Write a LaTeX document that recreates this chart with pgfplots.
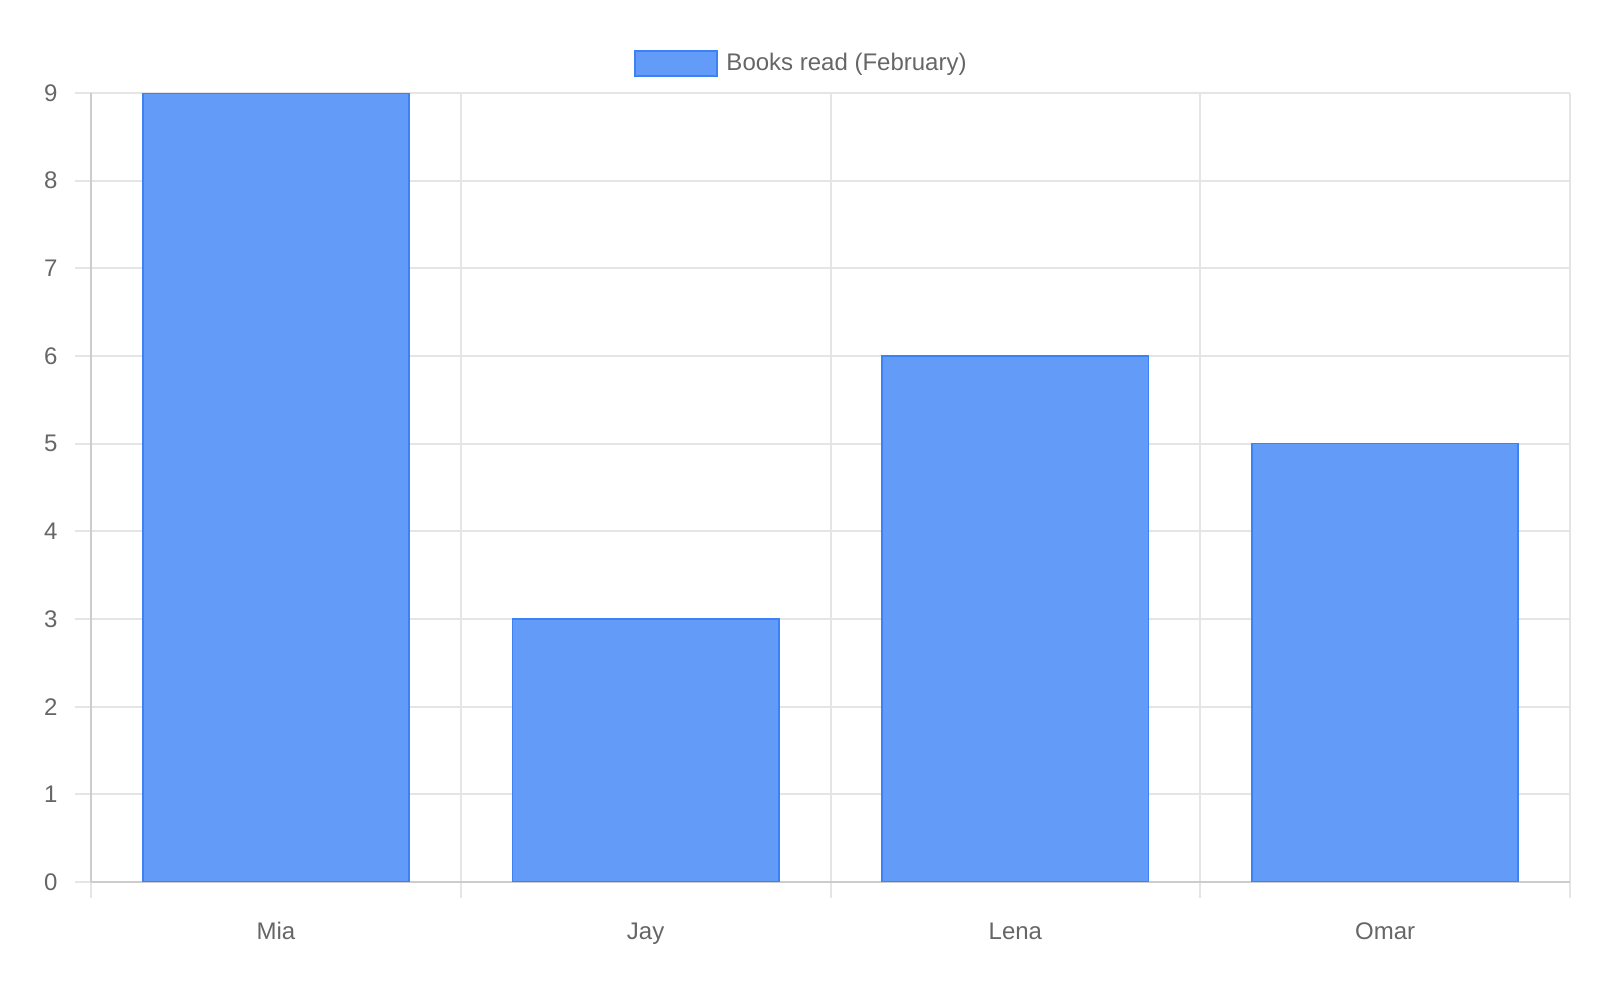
\documentclass[border=0pt]{standalone}
\usepackage{fontspec}
\setmainfont{Liberation Sans}
\usepackage{pgfplots}
\pgfplotsset{compat=1.18}
\definecolor{barfill}{RGB}{98,155,248}
\definecolor{barline}{RGB}{59,130,246}
\definecolor{txt}{RGB}{102,102,102}
\definecolor{gridc}{RGB}{229,229,229}
\definecolor{axisc}{RGB}{204,204,204}
\begin{document}
\begin{tikzpicture}
\path[use as bounding box] (-45.5pt,-59pt) rectangle (754.5pt,441pt);
\begin{axis}[
  at={(0,0)}, anchor=south west,
  scale only axis,
  width=739.5pt, height=394.5pt,
  xmin=-0.5, xmax=3.5, ymin=0, ymax=9,
  xtick={0,1,2,3},
  xticklabels={Mia,Jay,Lena,Omar},
  minor xtick={-0.5,0.5,1.5,2.5,3.5},
  ytick={0,1,...,9},
  axis x line=bottom, axis y line=left,
  axis line style={-, draw=axisc, line width=1pt},
  ymajorgrids, xminorgrids, xmajorgrids=false,
  major grid style={draw=gridc, line width=1pt},
  minor grid style={draw=gridc, line width=1pt},
  tick align=outside,
  major tick length=8pt, minor tick length=8pt,
  major x tick style={draw=none},
  minor x tick style={draw=gridc, line width=1pt},
  major y tick style={draw=gridc, line width=1pt},
  /pgf/number format/assume math mode=true,
  ticklabel style={font=\fontsize{12}{14}\selectfont, text=txt},
  yticklabel style={anchor=east, xshift=-8.5pt, inner sep=0pt},
  xticklabel style={anchor=base, inner sep=0pt, yshift=-20.8pt},
  legend style={at={(axis description cs:0.4811,1.038)}, anchor=center,
    draw=none, fill=none, font=\fontsize{12}{14}\selectfont, text=txt,
    legend cell align=left, inner sep=0pt,
    /tikz/every odd column/.append style={column sep=2pt}},
  legend image code/.code={
    \draw[fill=barfill, draw=barline, line width=1pt] (0pt,-6.25pt) rectangle (41pt,6.25pt);
  },
]
\addplot[ybar, bar width=0.72, fill=barfill, draw=barline, line width=0.8pt]
  coordinates {(0,9) (1,3) (2,6) (3,5)};
\addlegendentry{Books read (February)}
\end{axis}
\end{tikzpicture}
\end{document}
